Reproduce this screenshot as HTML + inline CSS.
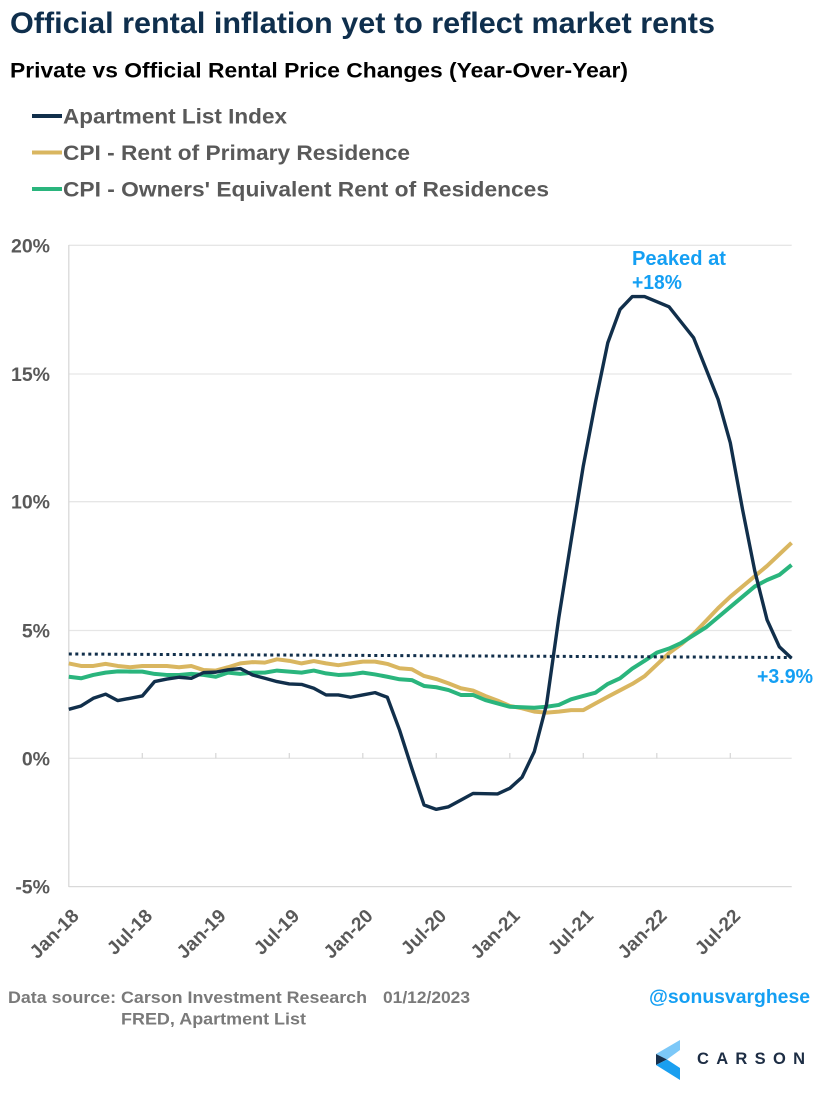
<!DOCTYPE html>
<html>
<head>
<meta charset="utf-8">
<style>
html,body{margin:0;padding:0;background:#fff;}
svg{display:block;}
text{font-family:"Liberation Sans",Arial,sans-serif;font-weight:bold;}
</style>
</head>
<body>
<svg width="825" height="1100" viewBox="0 0 825 1100" xmlns="http://www.w3.org/2000/svg">
<rect width="825" height="1100" fill="#ffffff"/>

<!-- Title -->
<text x="10" y="33" font-size="30" fill="#0f2f4d" textLength="705" lengthAdjust="spacingAndGlyphs">Official rental inflation yet to reflect market rents</text>
<text x="10" y="77.5" font-size="21" fill="#000000" textLength="618" lengthAdjust="spacingAndGlyphs">Private vs Official Rental Price Changes (Year-Over-Year)</text>

<!-- Legend -->
<line x1="32" y1="116" x2="62" y2="116" stroke="#112f4b" stroke-width="4"/>
<line x1="32" y1="152.5" x2="62" y2="152.5" stroke="#d9b660" stroke-width="4"/>
<line x1="32" y1="189" x2="62" y2="189" stroke="#2ab57d" stroke-width="4"/>
<text x="63" y="123.5" font-size="21.5" fill="#595959" textLength="224" lengthAdjust="spacingAndGlyphs">Apartment List Index</text>
<text x="63" y="160" font-size="21.5" fill="#595959" textLength="347" lengthAdjust="spacingAndGlyphs">CPI - Rent of Primary Residence</text>
<text x="63" y="196.5" font-size="21.5" fill="#595959" textLength="486" lengthAdjust="spacingAndGlyphs">CPI - Owners' Equivalent Rent of Residences</text>

<!-- Gridlines -->
<g stroke="#e6e6e6" stroke-width="1.3">
<line x1="68.8" y1="245.3" x2="791.7" y2="245.3"/>
<line x1="68.8" y1="374" x2="791.7" y2="374"/>
<line x1="68.8" y1="501.7" x2="791.7" y2="501.7"/>
<line x1="68.8" y1="630.5" x2="791.7" y2="630.5"/>
<line x1="68.8" y1="758.3" x2="791.7" y2="758.3"/>
</g>
<line x1="68.8" y1="886.6" x2="791.7" y2="886.6" stroke="#d9d9d9" stroke-width="1.3"/>
<line x1="68.8" y1="245" x2="68.8" y2="887" stroke="#d9d9d9" stroke-width="1.3"/>
<!-- ticks at 0% -->
<g stroke="#d9d9d9" stroke-width="1.3">
<line x1="142.3" y1="753" x2="142.3" y2="758.3"/>
<line x1="215.8" y1="753" x2="215.8" y2="758.3"/>
<line x1="289.3" y1="753" x2="289.3" y2="758.3"/>
<line x1="362.8" y1="753" x2="362.8" y2="758.3"/>
<line x1="436.3" y1="753" x2="436.3" y2="758.3"/>
<line x1="509.8" y1="753" x2="509.8" y2="758.3"/>
<line x1="583.3" y1="753" x2="583.3" y2="758.3"/>
<line x1="656.8" y1="753" x2="656.8" y2="758.3"/>
<line x1="730.3" y1="753" x2="730.3" y2="758.3"/>
</g>

<!-- Y labels -->
<g font-size="19.5" fill="#595959" text-anchor="end">
<text x="50" y="252.3">20%</text>
<text x="50" y="381">15%</text>
<text x="50" y="508.7">10%</text>
<text x="50" y="637.5">5%</text>
<text x="50" y="765.3">0%</text>
<text x="50" y="893.6">-5%</text>
</g>

<!-- X labels -->
<g font-size="19" fill="#595959" text-anchor="end">
<text transform="translate(80,917) rotate(-45)">Jan-18</text>
<text transform="translate(153.5,917) rotate(-45)">Jul-18</text>
<text transform="translate(227,917) rotate(-45)">Jan-19</text>
<text transform="translate(300.5,917) rotate(-45)">Jul-19</text>
<text transform="translate(374,917) rotate(-45)">Jan-20</text>
<text transform="translate(447.5,917) rotate(-45)">Jul-20</text>
<text transform="translate(521,917) rotate(-45)">Jan-21</text>
<text transform="translate(594.5,917) rotate(-45)">Jul-21</text>
<text transform="translate(668,917) rotate(-45)">Jan-22</text>
<text transform="translate(741.5,917) rotate(-45)">Jul-22</text>
</g>

<!-- CPI Rent (gold) -->
<polyline fill="none" stroke="#d9b660" stroke-width="4" stroke-linejoin="round" points="68.8,663.4 81.05,665.96 93.3,665.96 105.55,663.91 117.8,665.96 130.05,667.24 142.3,665.96 154.55,665.96 166.8,665.96 179.05,667.24 191.3,665.96 203.55,670.06 215.8,670.58 228.05,667.24 240.3,663.4 252.55,662.11 264.8,662.62 277.05,659.31 289.3,660.83 301.55,663.4 313.8,661.09 326.05,663.4 338.3,665.19 350.55,663.4 362.8,661.6 375.05,661.6 387.3,663.91 399.55,668.27 411.8,669.3 424.05,675.96 436.3,679.04 448.55,683.4 460.8,688.27 473.05,690.58 485.3,695.97 497.55,700.59 509.8,705.97 522.05,708.28 534.3,711.62 546.55,712.64 558.8,711.62 571.05,710.08 583.3,710.08 595.55,703.41 607.8,696.74 620.05,690.33 632.3,683.91 644.55,676.22 656.8,664.68 669.05,653.14 681.3,644.16 693.55,633.9 705.8,621.07 718.05,608.25 730.3,596.7 742.55,586.45 754.8,576.19 767.05,565.93 779.3,554.38 791.55,542.84"/>

<!-- OER (green) -->
<polyline fill="none" stroke="#2ab57d" stroke-width="4" stroke-linejoin="round" points="68.8,676.73 81.05,678.27 93.3,674.94 105.55,672.63 117.8,671.35 130.05,671.6 142.3,671.6 154.55,673.91 166.8,674.94 179.05,674.94 191.3,673.91 203.55,674.94 215.8,676.73 228.05,672.63 240.3,673.91 252.55,672.63 264.8,672.63 277.05,670.58 289.3,671.6 301.55,672.63 313.8,670.58 326.05,673.4 338.3,674.94 350.55,674.43 362.8,672.63 375.05,674.43 387.3,676.73 399.55,679.3 411.8,680.07 424.05,685.97 436.3,687.25 448.55,690.07 460.8,694.94 473.05,694.94 485.3,700.07 497.55,703.41 509.8,706.74 522.05,707.26 534.3,707.77 546.55,706.74 558.8,704.95 571.05,699.3 583.3,695.97 595.55,692.64 607.8,683.91 620.05,678.27 632.3,668.53 644.55,660.83 656.8,652.65 669.05,648.52 681.3,642.88 693.55,635.18 705.8,627.49 718.05,617.23 730.3,606.97 742.55,596.7 754.8,586.45 767.05,580.03 779.3,574.9 791.55,564.9"/>

<!-- Apartment List (navy) -->
<polyline fill="none" stroke="#112f4b" stroke-width="3.4" stroke-linejoin="round" points="68.8,709.3 81.05,705.97 93.3,698.28 105.55,694.18 117.8,700.59 130.05,698.28 142.3,695.97 154.55,681.6 166.8,679.04 179.05,677.25 191.3,678.27 203.55,672.63 215.8,672.12 228.05,669.81 240.3,668.53 252.55,674.94 264.8,678.27 277.05,681.6 289.3,683.91 301.55,684.43 313.8,688.27 326.05,694.94 338.3,694.94 350.55,697.25 362.8,694.94 375.05,692.64 387.3,697.25 399.55,730.08 411.8,768.3 424.05,804.98 436.3,809.34 448.55,806.78 460.8,800.11 473.05,793.44 485.3,793.7 497.55,793.95 509.8,788.31 522.05,777.28 534.3,751.63 546.55,704.4 558.8,617.8 571.05,541.1 583.3,465.89 595.55,401.77 607.8,342.77 620.05,309.43 632.3,296.6 644.55,296.6 656.8,301.73 669.05,306.86 681.3,322.25 693.55,337.64 705.8,368.42 718.05,399.2 730.3,442.81 742.55,509.5 754.8,571.06 767.05,619.79 779.3,646.72 791.55,658.27"/>

<!-- Dotted trend -->
<line x1="68.8" y1="654" x2="791.6" y2="657.5" stroke="#112f4b" stroke-width="3" stroke-dasharray="3 3.5"/>

<!-- Annotations -->
<g font-size="20" fill="#149ff3">
<text x="632" y="265" textLength="94" lengthAdjust="spacingAndGlyphs">Peaked at</text>
<text x="632" y="289" textLength="50" lengthAdjust="spacingAndGlyphs">+18%</text>
<text x="757" y="683" textLength="56" lengthAdjust="spacingAndGlyphs">+3.9%</text>
</g>

<!-- Footer -->
<g font-size="16.5" fill="#7a7a7a">
<text x="8" y="1003" textLength="359" lengthAdjust="spacingAndGlyphs">Data source: Carson Investment Research</text>
<text x="383" y="1003" textLength="87" lengthAdjust="spacingAndGlyphs">01/12/2023</text>
<text x="121" y="1024.5" textLength="185" lengthAdjust="spacingAndGlyphs">FRED, Apartment List</text>
</g>
<text x="649" y="1003" font-size="19" fill="#149ff3" textLength="161" lengthAdjust="spacingAndGlyphs">@sonusvarghese</text>

<!-- Carson logo -->
<polygon points="656,1054 680,1040 680,1050 667,1059.5" fill="#7cc8f8"/>
<polygon points="656,1054 667,1059.5 656,1065" fill="#17304d"/>
<polygon points="656,1065 667,1059.5 680,1068 680,1080" fill="#1a9ff0"/>
<text x="697" y="1064" font-size="16.5" fill="#1d2d44" textLength="108" lengthAdjust="spacing">CARSON</text>
</svg>
</body>
</html>
